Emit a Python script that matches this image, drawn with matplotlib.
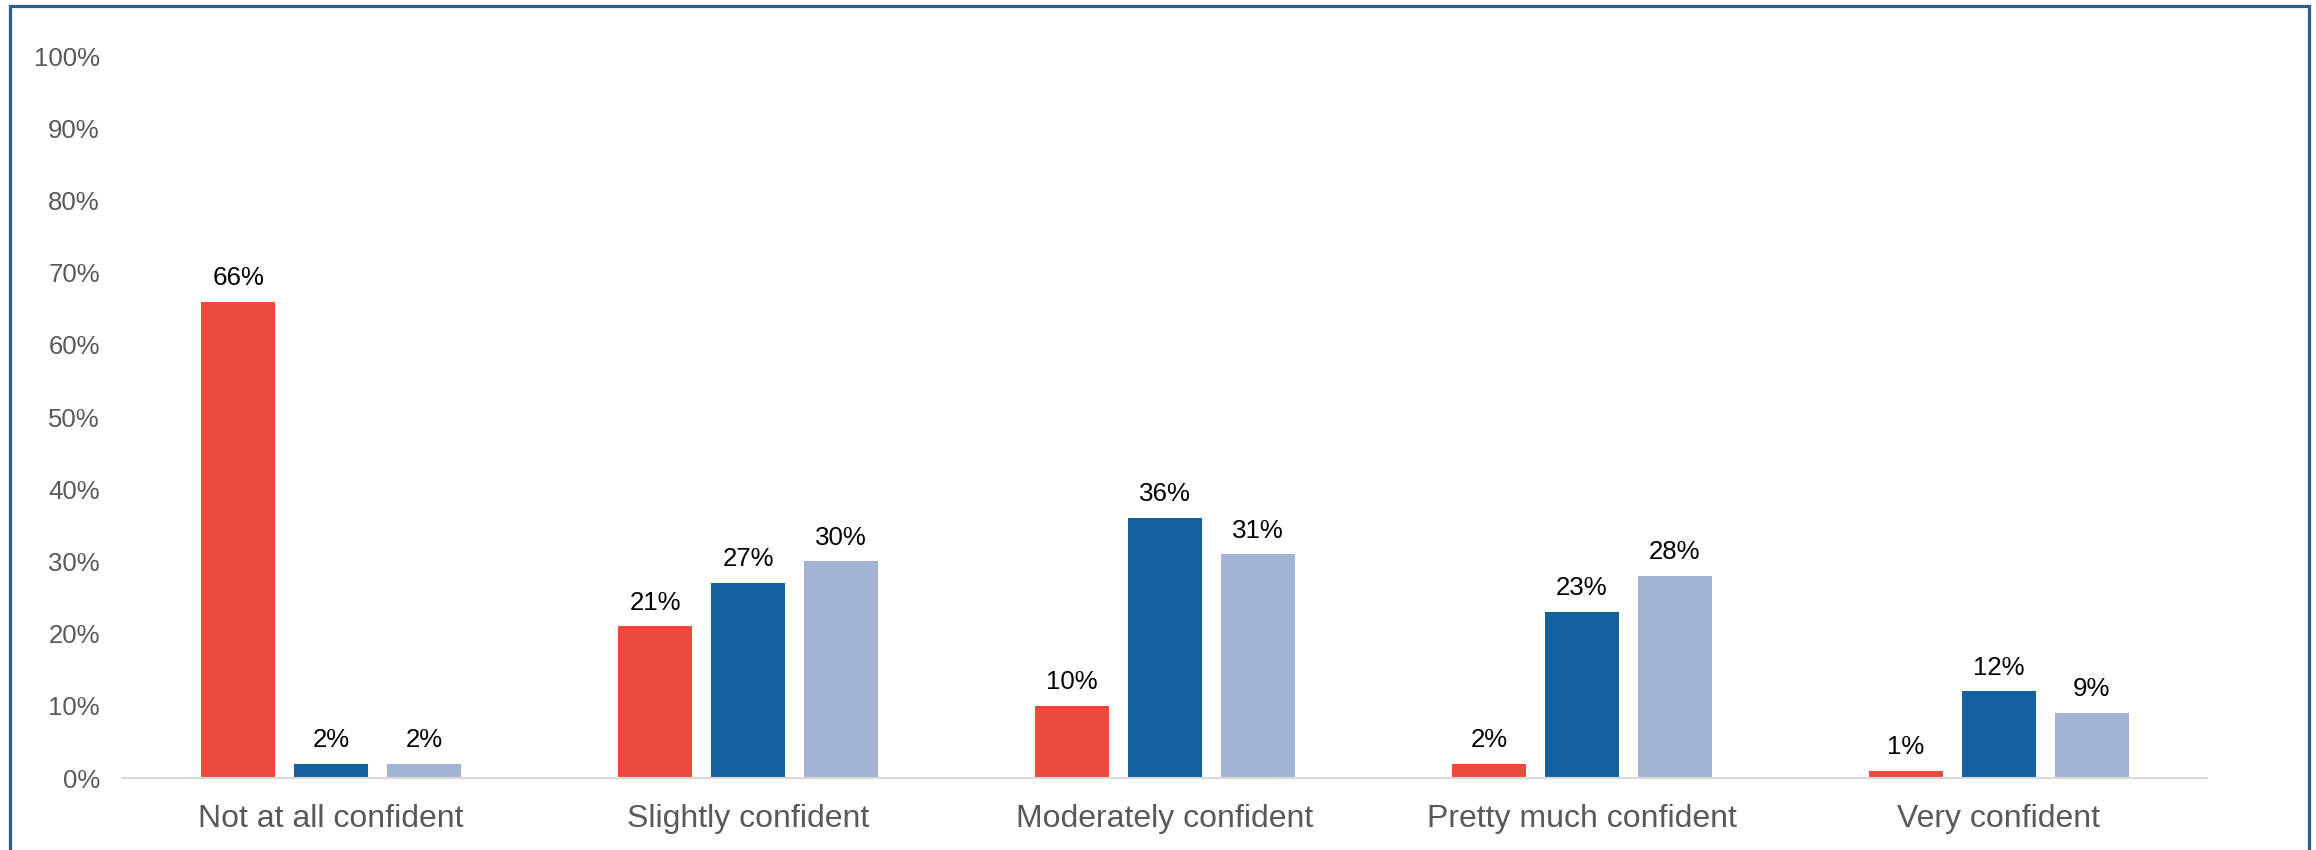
import numpy as np
import matplotlib
matplotlib.use('Agg')
import matplotlib.pyplot as plt
from matplotlib.patches import Rectangle

categories = ['Not at all confident', 'Slightly confident', 'Moderately confident',
              'Pretty much confident', 'Very confident']
series_a = [66, 21, 10, 2, 1]
series_b = [2, 27, 36, 23, 12]
series_c = [2, 30, 31, 28, 9]
yticks = [0, 10, 20, 30, 40, 50, 60, 70, 80, 90, 100]

colors = ['#E94C3D', '#1660A0', '#A2B4D4']

plt.rcParams['font.family'] = ['Liberation Sans', 'DejaVu Sans']

fig = plt.figure(figsize=(23.16, 8.5), dpi=100)
ax = fig.add_axes([0.053, 0.0847, 0.9, 0.8493])

x = np.arange(len(categories))
width = 0.178
step = 0.223
for k, (vals, col) in enumerate(zip([series_a, series_b, series_c], colors)):
   pos = x + (k - 1) * step
   ax.bar(pos, vals, width=width, color=col, zorder=2)
   for px, v in zip(pos, vals):
      ax.annotate('%d%%' % v, (px, v), xytext=(0, 12), textcoords='offset points',
                  ha='center', va='baseline', fontsize=18.6, color='black')

ax.set_xlim(-0.5, len(categories) - 0.5)
ax.set_ylim(0, 100)
ax.set_yticks(yticks)
ax.set_yticklabels(['%d%%' % t for t in yticks])
ax.set_xticks(x)
ax.set_xticklabels(categories)
ax.tick_params(axis='y', length=0, pad=16.5, labelsize=18.5, labelcolor='#595959')
ax.tick_params(axis='x', length=0, pad=18.5, labelsize=23, labelcolor='#595959')

for s in ['top', 'right', 'left']:
   ax.spines[s].set_visible(False)
ax.spines['bottom'].set_color('#D9D9D9')
ax.spines['bottom'].set_linewidth(1.5)

# frame round the whole chart, open at the bottom
fig.patches.append(Rectangle((10 / 2316, -0.05), 2299 / 2316, 1.05 - 6 / 850,
                             transform=fig.transFigure, fill=False,
                             edgecolor='#2E5A94', linewidth=2.3))

fig.savefig('out.png', dpi=100)
